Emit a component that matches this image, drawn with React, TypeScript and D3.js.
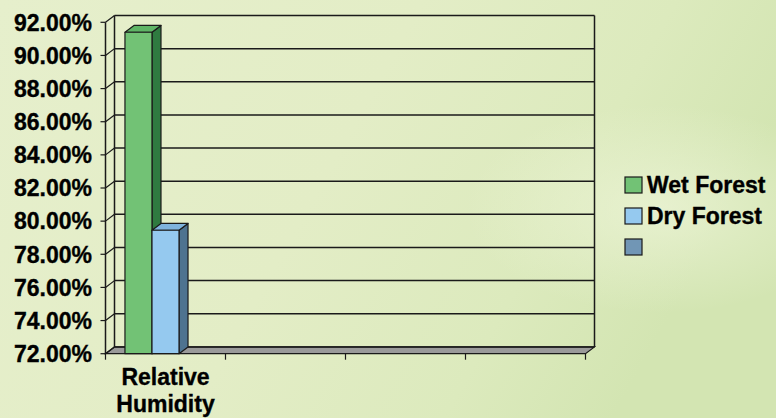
import React from "react";
import * as d3 from "d3";

const categories = ["Relative Humidity", "", "", ""];
const seriesNames = ["Wet Forest", "Dry Forest", ""];
const wetForest = [91.4, null, null, null];
const dryForest = [79.45, null, null, null];
const thirdSeries = [null, null, null, null];
const yTicks = [72, 74, 76, 78, 80, 82, 84, 86, 88, 90, 92];

const W = 776, H = 418;
const x0 = 105.5, x1 = 585.5;
const yBottom = 353.7, yTop = 22.3;
const DX = 9, DY = -6.8;

const fronts = ["#72c275", "#95c9ef", "#7196b5"];
const sides = ["#2f7a40", "#4e7390", "#4c6a82"];
const tops = ["#5fb566", "#7fb3dd", "#6485a0"];

export default function App() {
  const y = d3.scaleLinear().domain([72, 92]).range([yBottom, yTop]);
  const xCat = d3.scaleBand().domain(categories.map((c, i) => String(i))).range([x0, x1]).paddingInner(0).paddingOuter(0);
  const xs = d3.scaleBand().domain(["0", "1", "2"]).range([0, xCat.bandwidth()]).paddingOuter(0.72).paddingInner(0);
  const series = [wetForest, dryForest, thirdSeries];
  const font = "'Liberation Sans', Arial, sans-serif";
  const fs = 23;
  const txt = { fontFamily: font, fontWeight: "bold" as const, fontSize: fs, fill: "#000", stroke: "#000", strokeWidth: 0.35 };

  const bars: any[] = [];
  series.forEach((vals, si) => {
    vals.forEach((v, ci) => {
      if (v == null) return;
      const bx = (xCat(String(ci)) as number) + (xs(String(si)) as number);
      const bw = xs.bandwidth();
      const ty = y(v);
      const by = y(72);
      bars.push(
        <g key={`b${si}-${ci}`} stroke="#1a1a1a" strokeWidth={1.2} strokeLinejoin="round">
          <polygon points={`${bx + bw},${ty} ${bx + bw + DX},${ty + DY} ${bx + bw + DX},${by + DY} ${bx + bw},${by}`} fill={sides[si]} />
          <polygon points={`${bx},${ty} ${bx + DX},${ty + DY} ${bx + bw + DX},${ty + DY} ${bx + bw},${ty}`} fill={tops[si]} />
          <rect x={bx} y={ty} width={bw} height={by - ty} fill={fronts[si]} />
        </g>
      );
    });
  });

  return (
    <svg width={W} height={H} style={{ position: "absolute", left: 0, top: 0 }}>
      <defs>
        <linearGradient id="bg" x1="0" y1="0" x2="1" y2="0.3">
          <stop offset="0" stopColor="#e6efcc" />
          <stop offset="0.5" stopColor="#e3edc6" />
          <stop offset="0.8" stopColor="#dceabd" />
          <stop offset="1" stopColor="#d3e5b2" />
        </linearGradient>
        <radialGradient id="glow" cx="0.85" cy="0.5" r="0.25">
          <stop offset="0" stopColor="#eef5d9" stopOpacity="0.7" />
          <stop offset="1" stopColor="#eef5d9" stopOpacity="0" />
        </radialGradient>
      </defs>
      <rect width={W} height={H} fill="url(#bg)" />
      <rect width={W} height={H} fill="url(#glow)" />

      {/* floor */}
      <polygon
        points={`${x0},${yBottom} ${x1},${yBottom} ${x1 + DX},${yBottom + DY} ${x0 + DX},${yBottom + DY}`}
        fill="#9a9a9a" stroke="#1a1a1a" strokeWidth={1.2} />

      {/* back wall gridlines */}
      {yTicks.map((t) => (
        <line key={`g${t}`} x1={x0 + DX} x2={x1 + DX} y1={y(t) + DY} y2={y(t) + DY}
          stroke="#1a1a1a" strokeWidth={1.5} />
      ))}
      <line x1={x1 + DX} x2={x1 + DX} y1={y(92) + DY} y2={y(72) + DY} stroke="#1a1a1a" strokeWidth={1.5} />
      <line x1={x0 + DX} x2={x0 + DX} y1={y(92) + DY} y2={y(72) + DY} stroke="#1a1a1a" strokeWidth={1.5} />

      {/* side wall diagonals */}
      {yTicks.map((t) => (
        <line key={`d${t}`} x1={x0} x2={x0 + DX} y1={y(t)} y2={y(t) + DY} stroke="#1a1a1a" strokeWidth={1.2} />
      ))}
      {/* front axis */}
      <line x1={x0} x2={x0} y1={y(92)} y2={y(72)} stroke="#1a1a1a" strokeWidth={1.5} />
      {yTicks.map((t) => (
        <line key={`t${t}`} x1={x0 - 5} x2={x0} y1={y(t)} y2={y(t)} stroke="#1a1a1a" strokeWidth={1.2} />
      ))}
      {yTicks.map((t) => (
        <text key={`l${t}`} x={92} y={y(t)} dy="0.36em" textAnchor="end" {...txt}>{t.toFixed(2)}%</text>
      ))}

      {/* category ticks */}
      {categories.map((c, i) => {
        const xe = (xCat(String(i)) as number) + xCat.bandwidth();
        return <line key={`ct${i}`} x1={xe} x2={xe} y1={yBottom} y2={yBottom + 6} stroke="#1a1a1a" strokeWidth={1.2} />;
      })}
      <line x1={x0} x2={x0} y1={yBottom} y2={yBottom + 6} stroke="#1a1a1a" strokeWidth={1.2} />

      {bars}

      {/* category labels */}
      {categories.map((c, i) => {
        if (!c) return null;
        const cx = (xCat(String(i)) as number) + xCat.bandwidth() / 2;
        const words = c.split(" ");
        return (
          <text key={`cl${i}`} x={cx} y={385} textAnchor="middle" {...txt}>
            {words.map((w, k) => <tspan key={k} x={cx} dy={k === 0 ? 0 : 27}>{w}</tspan>)}
          </text>
        );
      })}

      {/* legend */}
      {seriesNames.map((n, i) => (
        <g key={`lg${i}`} transform={`translate(625,${177 + i * 31})`}>
          <rect x={0} y={0} width={17} height={16} fill={fronts[i]} stroke="#1a1a1a" strokeWidth={1.2} />
          <text x={22} y={8} dy="0.36em" {...txt}>{n}</text>
        </g>
      ))}
    </svg>
  );
}
